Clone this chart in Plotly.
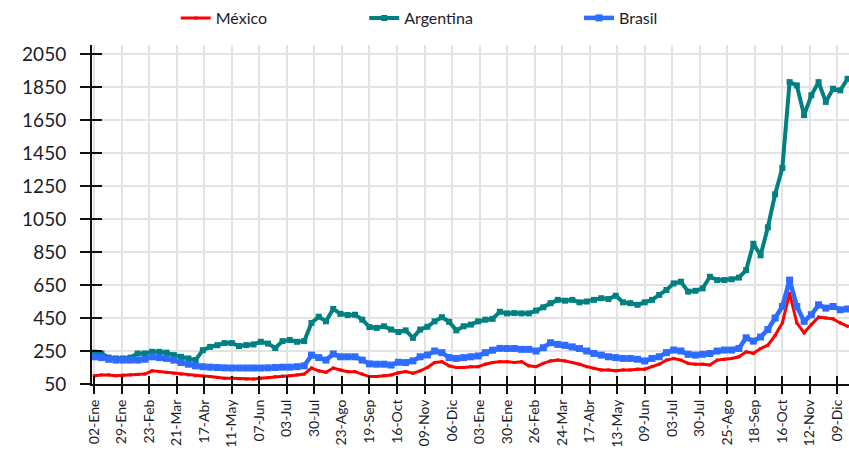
import plotly.graph_objects as go

# Business-day index (weekly sampling) from 02-Ene-2007 to Dec-2008
day_index = list(range(0, 521, 5))

mexico = [100,105,105,100,103,105,108,110,130,125,
          120,115,110,105,100,98,95,90,85,85,
          82,80,80,85,88,95,98,100,105,110,
          147,130,121,147,135,125,125,110,95,95,
          100,105,118,125,115,130,150,180,185,160,
          150,150,155,155,170,180,185,185,180,185,
          160,155,175,190,195,190,180,170,155,145,
          135,135,130,135,135,140,140,155,170,195,
          205,195,175,170,170,165,195,200,205,215,
          245,236,265,285,345,420,600,420,360,410,
          455,450,445,420,400]

argentina = [240,235,210,205,205,210,235,235,245,245,
             240,225,215,205,195,255,275,285,298,298,
             280,286,290,306,295,268,310,317,306,310,
             420,458,430,505,475,468,470,440,395,390,
             400,380,365,375,330,380,397,430,455,427,
             375,400,410,430,440,445,488,478,480,478,
             478,495,515,540,560,555,560,545,550,560,
             570,565,585,545,540,530,545,560,590,620,
             660,670,610,615,630,700,680,680,685,695,
             740,900,830,1000,1200,1360,1880,1860,1680,1800,
             1880,1760,1840,1830,1900]

brasil = [215,210,200,195,195,195,195,200,215,210,
          205,195,180,170,160,155,152,150,148,147,
          147,147,147,147,148,150,152,152,155,160,
          225,210,195,232,215,215,215,195,172,170,
          170,165,182,180,190,215,226,250,240,210,
          205,210,215,220,240,255,266,265,265,260,
          260,250,270,300,290,285,275,265,250,235,
          225,215,210,205,205,200,190,205,215,240,
          256,250,230,225,230,235,250,256,256,265,
          330,310,335,380,450,520,680,520,430,470,
          530,510,520,500,505]

tick_labels = ["02-Ene","29-Ene","23-Feb","21-Mar","17-Abr","11-May","07-Jun",
               "03-Jul","30-Jul","23-Ago","19-Sep","16-Oct","09-Nov","06-Dic",
               "03-Ene","30-Ene","26-Feb","24-Mar","17-Abr","13-May","09-Jun",
               "03-Jul","30-Jul","25-Ago","18-Sep","16-Oct","12-Nov","09-Dic"]
tick_step = 19
y_ticks = list(range(50, 2051, 200))

assert len(mexico) == len(day_index) == len(argentina) == len(brasil)

FONT = "Lato"
TXT = "#1c1c28"

fig = go.Figure()
fig.add_trace(go.Scatter(x=day_index, y=mexico, name="México", mode="lines+markers",
                         line=dict(color="#ff0000", width=3),
                         marker=dict(symbol="square", size=3, color="#ff0000"),
                         legend="legend"))
fig.add_trace(go.Scatter(x=day_index, y=argentina, name="Argentina", mode="lines+markers",
                         line=dict(color="#008080", width=4),
                         marker=dict(symbol="square", size=6, color="#008080"),
                         legend="legend2"))
fig.add_trace(go.Scatter(x=day_index, y=brasil, name="Brasil", mode="lines+markers",
                         line=dict(color="#2e6bff", width=4.5),
                         marker=dict(symbol="square", size=7, color="#2e6bff"),
                         legend="legend3"))

tickvals = [i * tick_step for i in range(len(tick_labels))]
xr = [-1.5, 521]
yr = [50, 2105]

leg = dict(orientation="h", yanchor="middle", y=1 - 18 / 461, yref="container",
           xanchor="left", xref="container",
           font=dict(family=FONT, size=16, color=TXT), bgcolor="rgba(0,0,0,0)",
           itemwidth=30)

fig.update_layout(
    width=849, height=461,
    margin=dict(l=92, r=0, t=45, b=77, autoexpand=False),
    paper_bgcolor="white", plot_bgcolor="white",
    font=dict(family=FONT, color=TXT),
    showlegend=True,
    legend=dict(leg, x=0.207),
    legend2=dict(leg, x=0.429),
    legend3=dict(leg, x=0.682),
    xaxis=dict(range=xr, tickmode="array", tickvals=tickvals, ticktext=tick_labels,
               tickangle=-90, tickfont=dict(family=FONT, size=14, color=TXT),
               showgrid=True, gridcolor="#e3e3e3", gridwidth=1.5,
               showline=True, linecolor="#111", linewidth=2,
               ticks="outside", ticklen=8, tickwidth=2, tickcolor="#111",
               zeroline=False, automargin=False),
    yaxis=dict(range=yr, tickmode="array", tickvals=y_ticks,
               tickfont=dict(family=FONT, size=19, color=TXT),
               showgrid=True, gridcolor="#e3e3e3", gridwidth=1.5,
               showline=True, linecolor="#111", linewidth=2,
               ticks="outside", ticklen=10, tickwidth=2, tickcolor="#111",
               ticklabelstandoff=10,
               zeroline=False, automargin=False),
    xaxis2=dict(range=xr, overlaying="x", tickmode="array", tickvals=tickvals,
                showticklabels=False, showgrid=False, ticks="inside", ticklen=8,
                tickwidth=2, tickcolor="#111", side="bottom", zeroline=False),
    yaxis2=dict(range=yr, overlaying="y", tickmode="array", tickvals=y_ticks,
                showticklabels=False, showgrid=False, ticks="inside", ticklen=10,
                tickwidth=2, tickcolor="#111", side="left", zeroline=False),
)
# invisible carrier trace for the inner tick axes
fig.add_trace(go.Scatter(x=[0], y=[50], xaxis="x2", yaxis="y2", mode="markers",
                         marker=dict(opacity=0), showlegend=False, hoverinfo="skip"))

fig.write_html("out.html", config={"displayModeBar": False},
               post_script="document.body.style.margin='0';document.body.style.padding='0';")
